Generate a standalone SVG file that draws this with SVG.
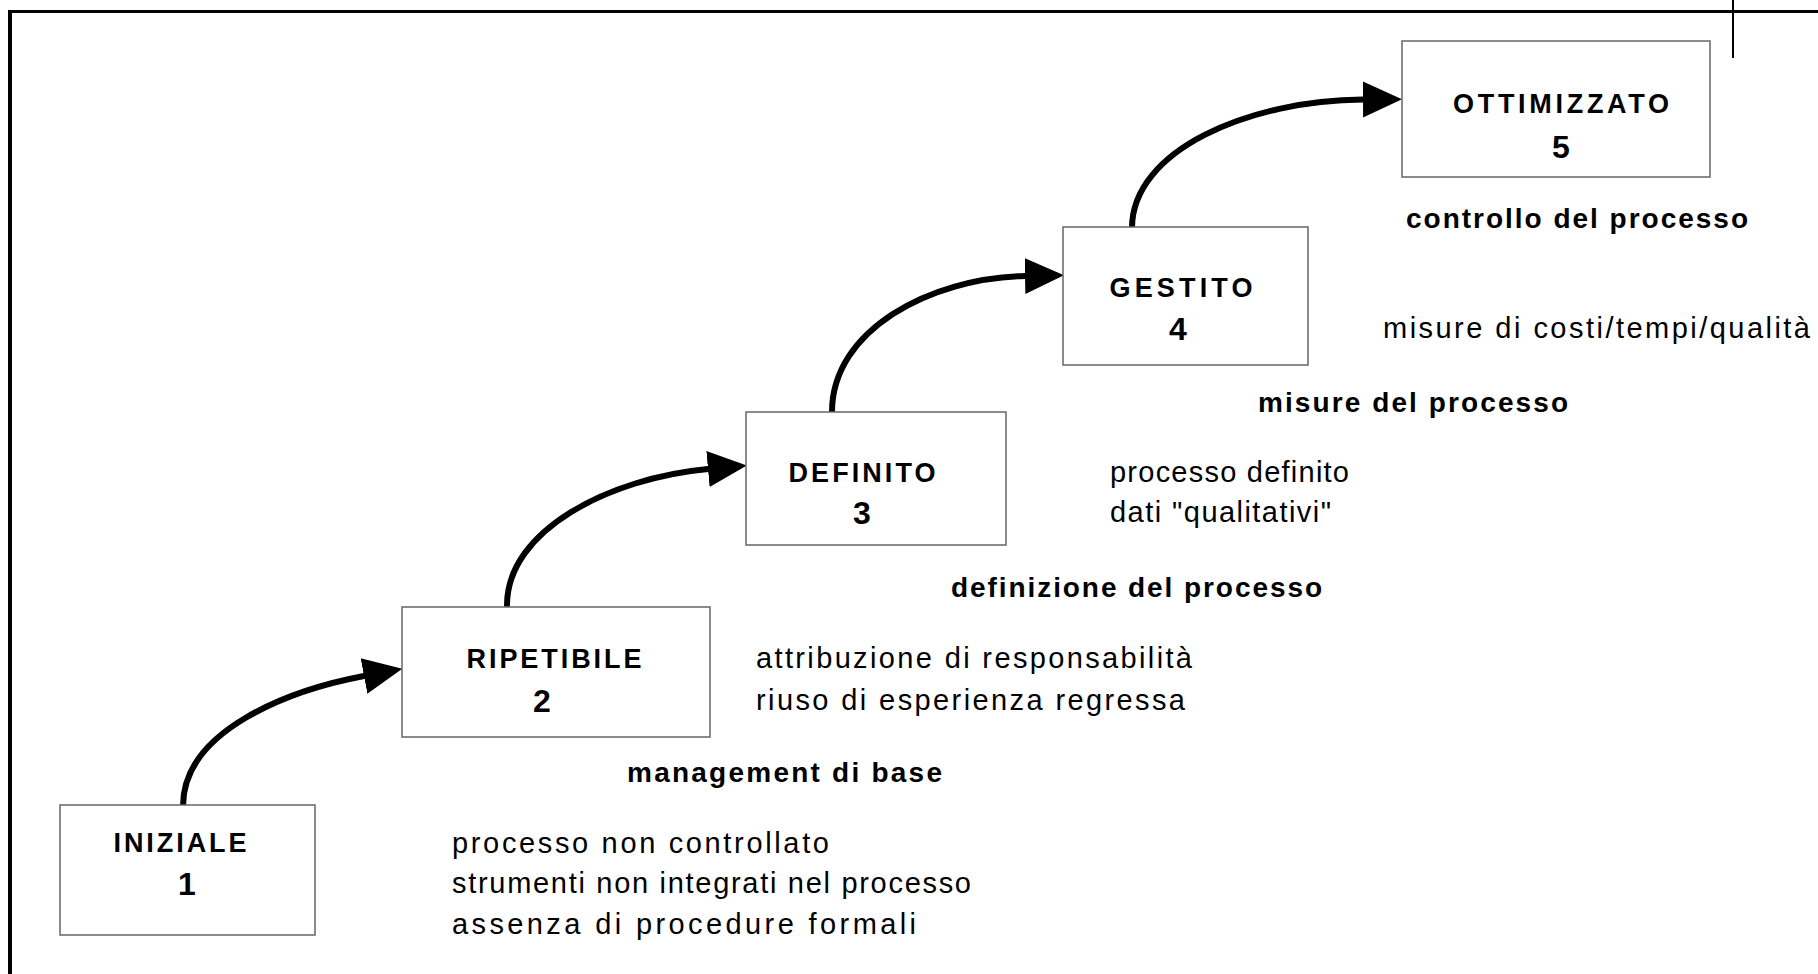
<svg xmlns="http://www.w3.org/2000/svg" width="1818" height="974" viewBox="0 0 1818 974">
<defs>
<style>
.box{fill:#fff;stroke:#666;stroke-width:1.5}
.lbl{font-family:"Liberation Sans",Arial,sans-serif;font-weight:bold;font-size:27px;text-anchor:middle;fill:#000}
.num{font-family:"Liberation Sans",Arial,sans-serif;font-weight:bold;font-size:32px;text-anchor:middle;fill:#000}
.cap{font-family:"Liberation Sans",Arial,sans-serif;font-weight:bold;font-size:28px;fill:#000}
.desc{font-family:"Liberation Sans",Arial,sans-serif;font-size:29px;fill:#000}
.arc{fill:none;stroke:#000;stroke-width:6;stroke-linecap:round}
</style>
<marker id="head" markerUnits="userSpaceOnUse" markerWidth="42" markerHeight="42" viewBox="0 -21 42 42" refX="0" refY="0" orient="auto">
<path d="M0,-18 L39,0 L0,18 Z" fill="#000"/>
</marker>
</defs>
<rect width="1818" height="974" fill="#fff"/>
<g id="frame">
<line x1="8" y1="11.5" x2="1818" y2="11.5" stroke="#000" stroke-width="3"/>
<line x1="10" y1="10" x2="10" y2="974" stroke="#000" stroke-width="4"/>
<line x1="1733" y1="0" x2="1733" y2="58" stroke="#000" stroke-width="2"/>
</g>
<g id="connectors">
<path class="arc" d="M183,806 C183,730 290,690 364,676" marker-end="url(#head)"/>
<path class="arc" d="M507,605 C507,530 610,478 708,469" marker-end="url(#head)"/>
<path class="arc" d="M832,412 C832,330 930,278 1025,276" marker-end="url(#head)"/>
<path class="arc" d="M1132,228 C1132,150 1250,100 1363,99.5" marker-end="url(#head)"/>
</g>
<g id="node1">
<rect class="box" x="60" y="805" width="255" height="130"/>
<text class="lbl" x="180" y="852" textLength="133" lengthAdjust="spacing">INIZIALE</text>
<text class="num" x="187" y="895">1</text>
</g>
<g id="node2">
<rect class="box" x="402" y="607" width="308" height="130"/>
<text class="lbl" x="554" y="668" textLength="175" lengthAdjust="spacing">RIPETIBILE</text>
<text class="num" x="542" y="712">2</text>
</g>
<g id="node3">
<rect class="box" x="746" y="412" width="260" height="133"/>
<text class="lbl" x="862" y="482" textLength="147" lengthAdjust="spacing">DEFINITO</text>
<text class="num" x="862" y="524">3</text>
</g>
<g id="node4">
<rect class="box" x="1063" y="227" width="245" height="138"/>
<text class="lbl" x="1181" y="297" textLength="143" lengthAdjust="spacing">GESTITO</text>
<text class="num" x="1178" y="340">4</text>
</g>
<g id="node5">
<rect class="box" x="1402" y="41" width="308" height="136"/>
<text class="lbl" x="1561" y="113" textLength="216" lengthAdjust="spacing">OTTIMIZZATO</text>
<text class="num" x="1561" y="158">5</text>
</g>
<g id="notes">
<text class="cap" x="1406" y="228" textLength="342" lengthAdjust="spacing">controllo del processo</text>
<text class="desc" x="1383" y="338" textLength="427" lengthAdjust="spacing">misure di costi/tempi/qualità</text>
<text class="cap" x="1258" y="412" textLength="310" lengthAdjust="spacing">misure del processo</text>
<text class="desc" x="1110" y="482" textLength="239" lengthAdjust="spacing">processo definito</text>
<text class="desc" x="1110" y="522" textLength="221" lengthAdjust="spacing">dati "qualitativi"</text>
<text class="cap" x="951" y="597" textLength="371" lengthAdjust="spacing">definizione del processo</text>
<text class="desc" x="756" y="668" textLength="436" lengthAdjust="spacing">attribuzione di responsabilità</text>
<text class="desc" x="756" y="710" textLength="429" lengthAdjust="spacing">riuso di esperienza regressa</text>
<text class="cap" x="627" y="782" textLength="315" lengthAdjust="spacing">management di base</text>
<text class="desc" x="452" y="853" textLength="377" lengthAdjust="spacing">processo non controllato</text>
<text class="desc" x="452" y="893" textLength="519" lengthAdjust="spacing">strumenti non integrati nel processo</text>
<text class="desc" x="452" y="934" textLength="464" lengthAdjust="spacing">assenza di procedure formali</text>
</g>
</svg>
